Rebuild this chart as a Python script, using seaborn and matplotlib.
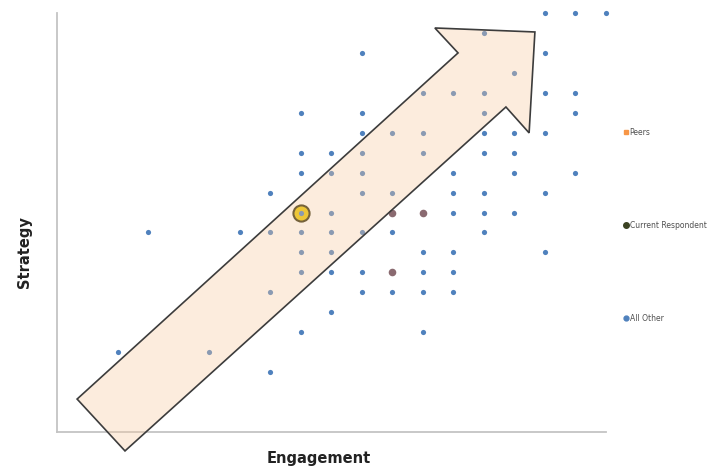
import numpy as np
import pandas as pd
import seaborn as sns
import matplotlib
matplotlib.use("Agg")
import matplotlib.pyplot as plt
from matplotlib.patches import Polygon
from matplotlib.lines import Line2D

# All other respondents (engagement, strategy)
other_x = [16, 17, 18,
           14,
           10, 16,
           15,
           12, 13, 14, 16, 17,
           8, 10, 14, 17,
           10, 11, 12, 14, 15, 16,
           8, 9, 10, 12, 14, 15,
           8, 9, 10, 13, 15, 17,
           7, 10, 11, 13, 14, 16,
           8, 9, 11, 12, 13, 14, 15,
           3, 6, 7, 8, 9, 10, 11, 14,
           8, 9, 12, 13, 16,
           8, 9, 10, 11, 12, 13,
           7, 10, 11, 12, 13,
           9,
           8, 12,
           2, 5,
           7]
other_y = [21, 21, 21,
           20,
           19, 19,
           18,
           17, 17, 17, 17, 17,
           16, 16, 16, 16,
           15, 15, 15, 15, 15, 15,
           14, 14, 14, 14, 14, 14,
           13, 13, 13, 13, 13, 13,
           12, 12, 12, 12, 12, 12,
           11, 11, 11, 11, 11, 11, 11,
           10, 10, 10, 10, 10, 10, 10, 10,
           9, 9, 9, 9, 9,
           8, 8, 8, 8, 8, 8,
           7, 7, 7, 7, 7,
           6,
           5, 5,
           4, 4,
           3]

peers_x = [11, 12, 11]
peers_y = [11, 11, 8]

current_x = [8]
current_y = [11]

x_ticks = [0, 6, 12, 18]
y_ticks = [0, 7, 14, 21]

# big arrow drawn over the cloud (data units)
arrow_xy = [(0.66, 1.65), (13.15, 19.0), (12.39, 20.25), (15.67, 20.05),
            (15.48, 14.99), (14.72, 16.29), (2.23, -0.95)]

blue = "#4f81bd"
orange = "#f79646"

others = pd.DataFrame({"engagement": other_x, "strategy": other_y})
peers = pd.DataFrame({"engagement": peers_x, "strategy": peers_y})
current = pd.DataFrame({"engagement": current_x, "strategy": current_y})

sns.set_style("white")
fig = plt.figure(figsize=(7.14, 4.70), dpi=100)
ax = fig.add_axes([0.0798, 0.0809, 0.7689, 0.8914])

sns.scatterplot(data=current, x="engagement", y="strategy", ax=ax, s=135,
                color="#e8c400", edgecolor="#2f2a05", linewidth=1.5,
                clip_on=False, zorder=1, legend=False)
sns.scatterplot(data=others, x="engagement", y="strategy", ax=ax, s=14,
                color=blue, linewidth=0, clip_on=False, zorder=2, legend=False)
# peer markers sit on top of the blue ones and read as a muddy mauve
sns.scatterplot(data=peers, x="engagement", y="strategy", ax=ax, s=30,
                color="#8a6a70", linewidth=0, clip_on=False, zorder=3,
                legend=False)

ax.add_patch(Polygon(arrow_xy, closed=True, facecolor="#f9cba0", alpha=0.35,
                     edgecolor="none", zorder=4, clip_on=False))
ax.add_patch(Polygon(arrow_xy, closed=True, facecolor="none",
                     edgecolor="#3c3c3c", linewidth=1.2, zorder=5, clip_on=False))

ax.set_xlim(0, 18)
ax.set_ylim(0, 21)
ax.set_xticks(x_ticks)
ax.set_yticks(y_ticks)
ax.set_xticklabels([])
ax.set_yticklabels([])
ax.tick_params(axis="both", direction="out", length=4, width=1, color="#c4c4c4")
for side in ["top", "right"]:
    ax.spines[side].set_visible(False)
for side in ["left", "bottom"]:
    ax.spines[side].set_color("#c4c4c4")
    ax.spines[side].set_linewidth(1.3)

ax.set_xlabel("Engagement", fontsize=10.5, fontweight="bold", color="#222222")
ax.set_ylabel("Strategy", fontsize=10.5, fontweight="bold", color="#222222")
ax.xaxis.set_label_coords(0.477, -0.046)
ax.yaxis.set_label_coords(-0.046, 0.43)

handles = [
    Line2D([], [], marker="s", linestyle="none", markersize=3.5,
           markerfacecolor=orange, markeredgecolor=orange),
    Line2D([], [], marker="o", linestyle="none", markersize=4,
           markerfacecolor="#3b4222", markeredgecolor="#3b4222"),
    Line2D([], [], marker="o", linestyle="none", markersize=3.5,
           markerfacecolor=blue, markeredgecolor=blue),
]
fig.legend(handles, ["Peers", "Current Respondent", "All Other"],
           loc="center left", bbox_to_anchor=(0.868, 0.521), frameon=False,
           fontsize=5.5, labelspacing=11.0, handlelength=0.6,
           handletextpad=0.2, borderpad=0, labelcolor="#505050")

fig.savefig("out.png", dpi=100)
